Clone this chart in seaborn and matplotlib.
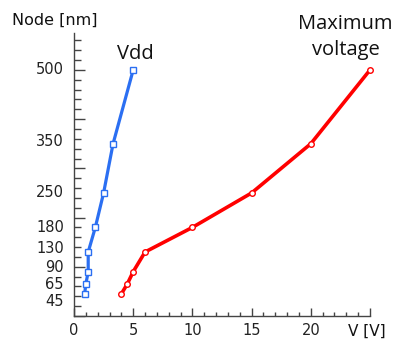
import matplotlib
matplotlib.use("Agg")
import matplotlib.pyplot as plt
import matplotlib.transforms as mtransforms
from matplotlib.ticker import MultipleLocator, FixedLocator
import seaborn as sns
import pandas as pd

# ---- data ----
nodes = [45, 65, 90, 130, 180, 250, 350, 500]
vdd = [0.9, 1.0, 1.2, 1.2, 1.8, 2.5, 3.3, 5.0]
vmax = [4.0, 4.5, 5.0, 6.0, 10.0, 15.0, 20.0, 25.0]
node_labels = ["45", "65", "90", "130", "180", "250", "350", "500"]
x_tick_values = [0, 5, 10, 15, 20, 25]
x_tick_labels = ["0", "5", "10", "15", "20", ""]

# label placement (spread apart as in the original)
label_pos = [30, 64, 99, 137, 180, 250, 355, 500]

sns.set_theme(style="ticks")
plt.rcParams['font.family'] = ['DejaVu Sans']

BLUE = "#2b6ff2"
RED = "#ff0000"
AX = "#444444"

fig = plt.figure(figsize=(3.96, 3.43), dpi=100)
ax = fig.add_axes([74/396, 1-316/343, (370-74)/396, (316-33)/343])

df_vdd = pd.DataFrame({"node": nodes, "V": vdd})
df_max = pd.DataFrame({"node": nodes, "V": vmax})

sns.lineplot(data=df_vdd, x="V", y="node", orient="y", estimator=None,
             color=BLUE, lw=2.3, marker="s", ms=4.3, mfc="white",
             mec=BLUE, mew=1.0, ax=ax, clip_on=False, zorder=3)
sns.lineplot(data=df_max, x="V", y="node", orient="y", estimator=None,
             color=RED, lw=2.6, marker="o", ms=4.0, mfc="white",
             mec=RED, mew=1.0, ax=ax, clip_on=False, zorder=3)

ax.set_xlim(0, 25)
ax.set_ylim(0, 575)
ax.set_xlabel("")
ax.set_ylabel("")

for s in ["top", "right"]:
    ax.spines[s].set_visible(False)
for s in ["left", "bottom"]:
    ax.spines[s].set_color(AX)
    ax.spines[s].set_linewidth(1.0)

ax.xaxis.set_major_locator(FixedLocator(x_tick_values))
ax.set_xticklabels(x_tick_labels)
ax.xaxis.set_minor_locator(MultipleLocator(1))
ax.yaxis.set_major_locator(MultipleLocator(100))
ax.yaxis.set_minor_locator(MultipleLocator(20))
ax.set_yticklabels([])

ax.tick_params(axis="x", which="major", direction="in", length=6, width=1,
               color=AX, labelsize=10.5, labelcolor="#222222", pad=5)
ax.tick_params(axis="x", which="minor", direction="in", length=3, width=1, color=AX)
ax.tick_params(axis="y", which="major", direction="in", length=8, width=1, color=AX)
ax.tick_params(axis="y", which="minor", direction="in", length=5, width=1, color=AX)

trans = mtransforms.blended_transform_factory(ax.transAxes, ax.transData)
for lab, pos in zip(node_labels, label_pos):
    ax.text(-10/296, pos, lab, transform=trans, ha="right", va="center",
            fontsize=10.5, color="#222222")

fig.text(12/396, 1-20/343, "Node [nm]", ha="left", va="center",
         fontsize=11.5, color="#111111")
fig.text(367/396, 1-331/343, "V [V]", ha="center", va="center",
         fontsize=11, color="#111111")

ax.text(5.15, 533, "Vdd", ha="center", va="center", fontsize=14.5,
        family=["Open Sans", "DejaVu Sans"], color="#111111", clip_on=False)
ax.text(22.95, 567, "Maximum\nvoltage", ha="center", va="center", fontsize=14.5,
        family=["Open Sans", "DejaVu Sans"], color="#111111", clip_on=False,
        linespacing=1.4)

fig.savefig("out.png", dpi=100)
